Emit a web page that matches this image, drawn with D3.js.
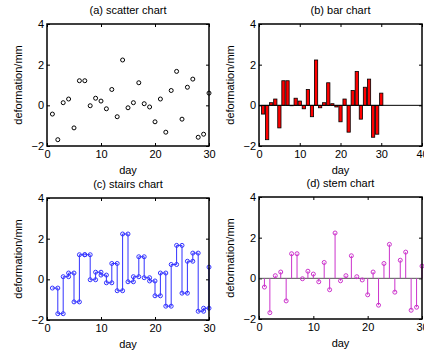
<!DOCTYPE html>
<html>
<head>
<meta charset="utf-8">
<script src="https://cdnjs.cloudflare.com/ajax/libs/d3/7.8.5/d3.min.js"></script>
<style>
  body { margin: 0; background: #fff; }
  svg { display: block; font-family: 'Liberation Sans', Arial, sans-serif; }
</style>
</head>
<body>
<div id="container"></div>
<script>
const days = d3.range(1, 31);
const deformation = [-0.43, -1.69, 0.13, 0.31, -1.11, 1.21, 1.21, -0.02, 0.35, 0.21,
                     -0.17, 0.78, -0.56, 2.23, -0.12, 0.13, 1.11, 0.08, -0.08, -0.81,
                     0.31, -1.32, 0.73, 1.67, -0.68, 0.89, 1.29, -1.57, -1.42, 0.60];
const yTicks = [-2, 0, 2, 4];
const xTicks30 = [0, 10, 20, 30];
const xTicks40 = [0, 10, 20, 30, 40];
const titles = ['(a) scatter chart', '(b) bar chart', '(c) stairs chart', '(d) stem chart'];

const w = 424;
const h = 351;

const svg = d3.select('#container')
              .append('svg')
              .attr('width', w)
              .attr('height', h);

// one panel: box, ticks, labels, returns scales + group
function panel(left, top, right, bottom, xMax, xTicks, title) {
  const g = svg.append('g');
  const x = d3.scaleLinear().domain([0, xMax]).range([left, right]);
  const y = d3.scaleLinear().domain([-2, 4]).range([bottom, top]);

  g.append('text')
   .attr('x', (left + right) / 2)
   .attr('y', top - 10)
   .attr('text-anchor', 'middle')
   .attr('font-size', 11)
   .text(title);

  g.append('g')
   .attr('transform', `translate(0,${bottom})`)
   .call(d3.axisBottom(x).tickValues(xTicks).tickSize(-3).tickPadding(4).tickFormat(d3.format('d')))
   .call(s => s.select('.domain').remove())
   .call(s => s.selectAll('text').attr('font-size', 11).attr('fill', '#000').attr('font-family', 'Liberation Sans, Arial, sans-serif'));

  g.append('g')
   .attr('transform', `translate(0,${top})`)
   .call(d3.axisTop(x).tickValues(xTicks).tickSize(-3).tickFormat(''))
   .call(s => s.select('.domain').remove());

  g.append('g')
   .attr('transform', `translate(${left},0)`)
   .call(d3.axisLeft(y).tickValues(yTicks).tickSize(-3).tickPadding(3).tickFormat(d3.format('d')))
   .call(s => s.select('.domain').remove())
   .call(s => s.selectAll('text').attr('font-size', 11).attr('fill', '#000').attr('font-family', 'Liberation Sans, Arial, sans-serif'));

  g.append('g')
   .attr('transform', `translate(${right},0)`)
   .call(d3.axisRight(y).tickValues(yTicks).tickSize(-3).tickFormat(''))
   .call(s => s.select('.domain').remove());

  g.append('text')
   .attr('x', (left + right) / 2)
   .attr('y', bottom + 28)
   .attr('text-anchor', 'middle')
   .attr('font-size', 11)
   .text('day');

  g.append('text')
   .attr('transform', `translate(${left - 25},${(top + bottom) / 2}) rotate(-90)`)
   .attr('text-anchor', 'middle')
   .attr('font-size', 11)
   .text('deformation/mm');

  const plot = g.append('g');

  g.append('rect')
   .attr('x', left)
   .attr('y', top)
   .attr('width', right - left)
   .attr('height', bottom - top)
   .attr('fill', 'none')
   .attr('stroke', '#000')
   .attr('stroke-width', 1.5);

  return { x, y, plot };
}

// (a) scatter
const a = panel(47, 24, 209, 146, 30, xTicks30, titles[0]);
a.plot.selectAll('circle')
  .data(days)
  .enter()
  .append('circle')
  .attr('cx', (d) => a.x(d))
  .attr('cy', (d, i) => a.y(deformation[i]))
  .attr('r', 2)
  .attr('fill', 'none')
  .attr('stroke', '#000')
  .attr('stroke-width', 1);

// (b) bar
const b = panel(259, 24, 422, 146, 40, xTicks40, titles[1]);
const bw = b.x(0.8) - b.x(0);
b.plot.selectAll('rect')
  .data(days)
  .enter()
  .append('rect')
  .attr('x', (d) => b.x(d) - bw / 2)
  .attr('y', (d, i) => b.y(Math.max(0, deformation[i])))
  .attr('width', bw)
  .attr('height', (d, i) => Math.abs(b.y(deformation[i]) - b.y(0)))
  .attr('fill', '#ff0000')
  .attr('stroke', '#000')
  .attr('stroke-width', 0.8);
b.plot.append('line')
  .attr('x1', b.x(0)).attr('x2', b.x(40))
  .attr('y1', b.y(0)).attr('y2', b.y(0))
  .attr('stroke', '#000')
  .attr('stroke-width', 1);

// (c) stairs
const c = panel(47, 198, 209, 320, 30, xTicks30, titles[2]);
let stairPts = [];
days.forEach((d, i) => {
  stairPts.push([d, deformation[i]]);
  if (i < days.length - 1) stairPts.push([days[i + 1], deformation[i]]);
});
c.plot.append('path')
  .datum(stairPts)
  .attr('d', d3.line().x((p) => c.x(p[0])).y((p) => c.y(p[1])))
  .attr('fill', 'none')
  .attr('stroke', '#3333ff')
  .attr('stroke-width', 1);
c.plot.selectAll('circle')
  .data(stairPts)
  .enter()
  .append('circle')
  .attr('cx', (p) => c.x(p[0]))
  .attr('cy', (p) => c.y(p[1]))
  .attr('r', 2)
  .attr('fill', 'none')
  .attr('stroke', '#3333ff')
  .attr('stroke-width', 1);

// (d) stem
const dd = panel(259, 197, 422, 319, 30, xTicks30, titles[3]);
dd.plot.append('line')
  .attr('x1', dd.x(0)).attr('x2', dd.x(30))
  .attr('y1', dd.y(0)).attr('y2', dd.y(0))
  .attr('stroke', '#555')
  .attr('stroke-width', 1);
dd.plot.selectAll('.stem')
  .data(days)
  .enter()
  .append('line')
  .attr('class', 'stem')
  .attr('x1', (d) => dd.x(d)).attr('x2', (d) => dd.x(d))
  .attr('y1', dd.y(0))
  .attr('y2', (d, i) => dd.y(deformation[i]))
  .attr('stroke', '#cc33cc')
  .attr('stroke-width', 1);
dd.plot.selectAll('circle')
  .data(days)
  .enter()
  .append('circle')
  .attr('cx', (d) => dd.x(d))
  .attr('cy', (d, i) => dd.y(deformation[i]))
  .attr('r', 2)
  .attr('fill', 'none')
  .attr('stroke', '#cc33cc')
  .attr('stroke-width', 1);
</script>
</body>
</html>
